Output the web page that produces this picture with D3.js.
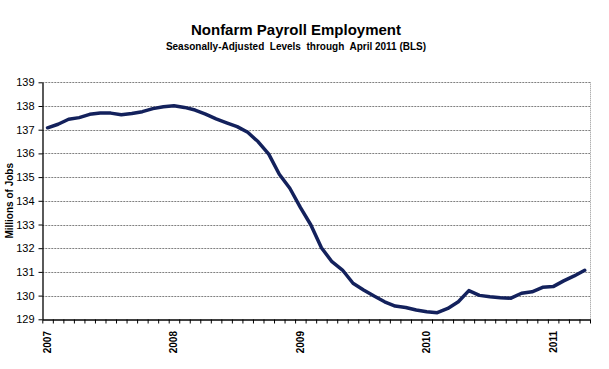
<!DOCTYPE html>
<html>
<head>
<meta charset="utf-8">
<script src="https://cdn.jsdelivr.net/npm/d3@7"></script>
<style>
  body { margin: 0; background: #fff; }
  text { font-family: Arial, "Liberation Sans", sans-serif; fill: #000; }
</style>
</head>
<body>
<div class="wrapper"></div>
<script>
const WIDTH = 609, HEIGHT = 369;
const PLOT = { left: 42.3, right: 590, top: 82.3, bottom: 319.3 };

// Monthly levels, Jan 2007 - Apr 2011 (millions of jobs)
const values = [
  137.08, 137.23, 137.44, 137.51, 137.65, 137.70, 137.70, 137.63, 137.68, 137.76, 137.89, 137.97,
  138.01, 137.94, 137.83, 137.66, 137.46, 137.29, 137.13, 136.89, 136.49, 135.97, 135.12, 134.53,
  133.72, 132.98, 132.02, 131.43, 131.08, 130.52, 130.24, 129.98, 129.74, 129.56, 129.50, 129.39,
  129.32, 129.28, 129.46, 129.74, 130.21, 130.01, 129.95, 129.91, 129.89, 130.10, 130.16, 130.35,
  130.38, 130.62, 130.83, 131.07
];
const yearLabels = ['2007', '2008', '2009', '2010', '2011'];
const yTicks = [129, 130, 131, 132, 133, 134, 135, 136, 137, 138, 139];

const svg = d3.select('.wrapper').append('svg')
  .attr('width', WIDTH)
  .attr('height', HEIGHT);

// Category axis: one slot per month, ticks on slot boundaries
const xScale = d3.scaleLinear().domain([0, values.length]).range([PLOT.left, PLOT.right]);
const yScale = d3.scaleLinear().domain([129, 139]).range([PLOT.bottom, PLOT.top]);

svg.append('text')
  .attr('x', 296).attr('y', 35)
  .attr('text-anchor', 'middle')
  .style('font-size', '15px').style('font-weight', 'bold')
  .text('Nonfarm Payroll Employment');

svg.append('text')
  .attr('x', 296).attr('y', 50)
  .attr('text-anchor', 'middle')
  .attr('xml:space', 'preserve')
  .style('white-space', 'pre')
  .style('font-size', '10px').style('font-weight', 'bold')
  .text('Seasonally-Adjusted  Levels  through  April 2011 (BLS)');

// gridlines
svg.append('g')
  .selectAll('line')
  .data(yTicks.slice(1))
  .enter().append('line')
  .attr('x1', PLOT.left).attr('x2', PLOT.right)
  .attr('y1', d => Math.round(yScale(d)) + 0.5)
  .attr('y2', d => Math.round(yScale(d)) + 0.5)
  .attr('stroke', '#808080')
  .attr('stroke-dasharray', '2,1');

// right border of plot area
svg.append('line')
  .attr('x1', PLOT.right + 0.5).attr('x2', PLOT.right + 0.5)
  .attr('y1', PLOT.top).attr('y2', PLOT.bottom)
  .attr('stroke', '#909090')
  .attr('stroke-dasharray', '1,1');

const yAxis = d3.axisLeft(yScale)
  .tickValues(yTicks)
  .tickSizeInner(4)
  .tickSizeOuter(0)
  .tickPadding(4)
  .tickFormat(d3.format('d'));

svg.append('g')
  .attr('transform', `translate(${Math.round(PLOT.left) + 0.5}, 0)`)
  .call(yAxis)
  .call(g => g.select('.domain').attr('stroke', '#000').attr('stroke-width', 1.3))
  .call(g => g.selectAll('text').style('font-size', '11px').attr('fill', '#000'));

const xAxis = d3.axisBottom(xScale)
  .tickValues(d3.range(values.length + 1))
  .tickSizeInner(4)
  .tickSizeOuter(0)
  .tickFormat('');

svg.append('g')
  .attr('transform', `translate(0, ${Math.round(PLOT.bottom) + 0.5})`)
  .call(xAxis)
  .call(g => g.select('.domain').attr('stroke', '#000').attr('stroke-width', 1.3));

svg.append('g')
  .selectAll('text')
  .data(yearLabels)
  .enter().append('text')
  .attr('transform', (d, i) => `translate(${xScale(i * 12 + 0.5)}, 331) rotate(-90)`)
  .attr('text-anchor', 'end')
  .attr('dy', '0.35em')
  .style('font-size', '10px').style('font-weight', 'bold')
  .text(d => d);

svg.append('text')
  .attr('transform', `translate(13, ${(PLOT.top + PLOT.bottom) / 2}) rotate(-90)`)
  .attr('text-anchor', 'middle')
  .style('font-size', '10px').style('font-weight', 'bold')
  .text('Millions of Jobs');

const line = d3.line()
  .x((d, i) => xScale(i + 0.5))
  .y(d => yScale(d));

svg.append('path')
  .datum(values)
  .attr('d', line)
  .attr('fill', 'none')
  .attr('stroke', '#13215c')
  .attr('stroke-width', 3.5)
  .attr('stroke-linejoin', 'round')
  .attr('stroke-linecap', 'round');
</script>
</body>
</html>
